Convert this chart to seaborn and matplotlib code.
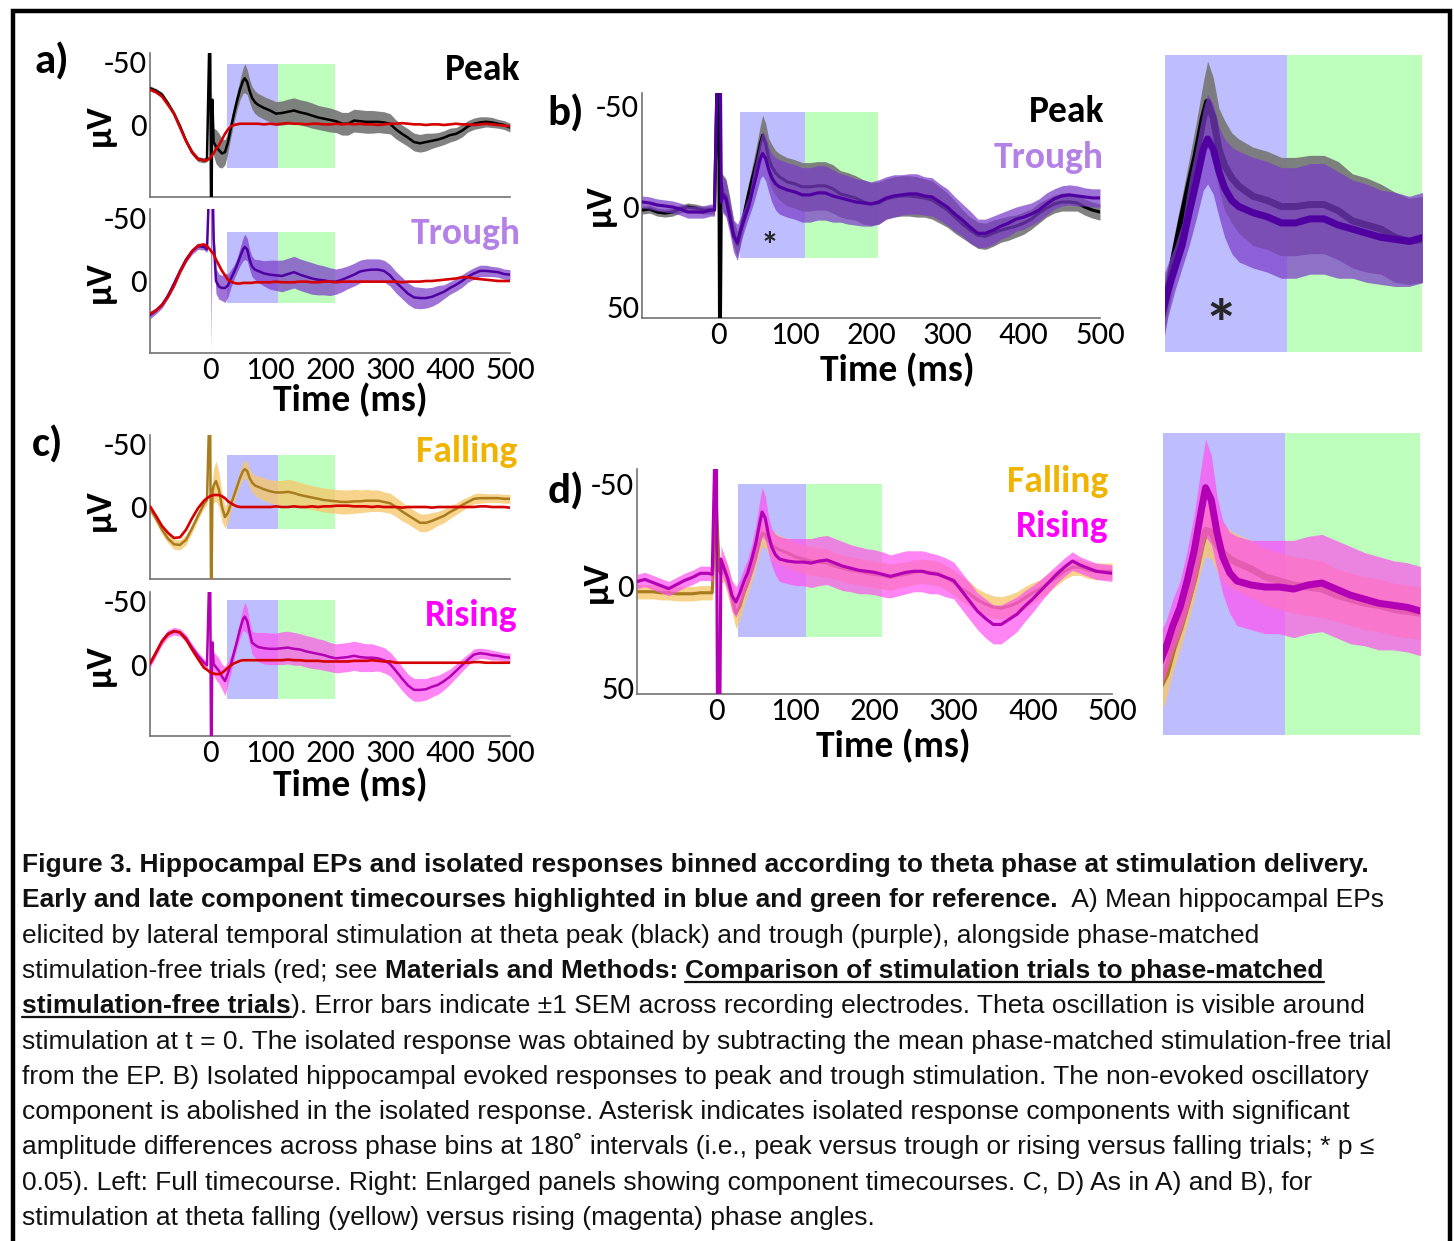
import numpy as np
import pandas as pd
import matplotlib
matplotlib.use("Agg")
import matplotlib.pyplot as plt
import matplotlib.transforms as mtransforms
import seaborn as sns
from matplotlib.patches import Rectangle
from matplotlib.lines import Line2D
from matplotlib import font_manager

# ------------------------------------------------------------------ data
TIME_MS = [-100, -90, -80, -70, -60, -50, -40, -30, -20, -10,
           -5, 0, 2, 4, 6,
           10, 15, 20, 25, 30, 35, 40, 45, 50, 55,
           58, 62, 66, 70, 75, 80,
           90, 100, 110, 120, 130, 140, 150, 160, 170, 180, 190, 200,
           210, 220, 230, 240, 250, 260, 270, 280, 290, 300,
           310, 320, 330, 340, 350, 360, 370, 380, 390, 400,
           410, 420, 430, 440, 450, 460, 470, 480, 490, 500]

# a) EP at theta peak + phase-matched stimulation-free trials (uV, negative up)
A_PEAK_FREE = [-28, -26, -22.5, -16, -9, 2, 12.5, 21.5, 27, 28,
               28, 26, 25, 23.5, 22.5,
               19, 16, 11.5, 7, 3.5, 1, 0, -0.5, -1, -1,
               -1, -1, -1, -1, -1, -1,
               -0.5, -1, -0.5, -1, -1.5, -1, -1, -0.5, -1, -1, -0.5, -0.5,
               -1, -0.5, -1, -0.5, -1, -0.5, -0.5, 0, -0.5, -1,
               -1, -1.5, -1, -0.5, -0.5, 0, -0.5, -0.5, 0, -0.5,
               -1, -0.5, -0.5, 0, -0.5, -1, -0.5, 0, 0.5, 1]
A_PEAK_EP = [-29, -27, -24, -17, -9, 1, 12.5, 21.5, 27, 28,
             27, -95, 95, -20, 13.5,
             17, 20, 22.5, 21.5, 13.5, 2, -9, -19, -28, -35,
             -37, -34, -27, -21.5, -18, -16,
             -13.5, -11.5, -9, -9.5, -10.5, -11.5, -10, -9, -7.5, -6, -5, -4,
             -3, -1, -1, -3.5, -3, -2.5, -2.5, -2.5, -2, -1,
             3.5, 7, 10, 13.5, 14.5, 13.5, 12.5, 11.5, 10, 8,
             7, 4.5, 1, -1, -2, -2.5, -2, -1, 0, 2]
A_PEAK_SEM = [2, 2, 2, 2, 2, 2, 2, 2, 2, 2,
              2, 2, 2, 7, 11,
              13.5, 13.5, 11.5, 10, 8, 7, 7, 7, 8, 10,
              11.5, 10, 9, 9, 9, 9,
              9, 9, 9.5, 9.5, 10, 10, 10, 10, 10, 9.5, 9.5, 9.5,
              9, 9, 9, 9, 9, 9, 9, 8.5, 8.5, 8,
              7.5, 7, 7, 7, 7, 7, 6, 5.5, 5.5, 5.5,
              5, 5, 4.5, 4.5, 4.5, 4, 4, 3.5, 3.5, 3.5]

A_TROUGH_FREE = [26, 23.5, 19, 12.5, 4, -7, -16, -23.5, -28, -29,
                 -27.5, -25, -23.5, -22.5, -21.5,
                 -17, -12.5, -8, -4.5, -1, 0.5, 1.5, 2, 2, 1.5,
                 1.5, 1.5, 1.5, 1.5, 1, 1,
                 1, 1, 0.5, 1, 1, 1, 0.5, 0.5, 1, 1, 0.5, 0.5,
                 1, 0.5, 0.5, 0.5, 0.5, 0.5, 0.5, 0.5, 0.5, 0.5,
                 0.5, 1, 0.5, 0.5, 0.5, 0, 0, -0.5, -1, -1.5,
                 -2, -3, -3, -2, -1.5, -1, -0.5, 0, 0, 0]
A_TROUGH_EP = [27, 23.5, 19, 11.5, 2, -8, -17, -23.5, -27.5, -27,
               -25, -95, -95, -95, -34,
               0, 4.5, 5.5, 5.5, 3.5, -2, -7, -12.5, -19, -25,
               -27, -25, -17, -11.5, -9, -8,
               -6, -5, -4.5, -4, -5.5, -7, -5, -3.5, -2, -1, -0.5, 0.5,
               0.5, -1, -3, -5, -7.5, -8.5, -9, -9, -8, -4.5,
               1, 5.5, 10, 13, 13.5, 13.5, 12.5, 10.5, 8.5, 5.5,
               3, 0, -3.5, -6, -8, -8, -7.5, -7, -5.5, -5]
A_TROUGH_SEM = [3, 2.5, 2.5, 2.5, 2.5, 2.5, 2.5, 2.5, 2.5, 2.5,
                2.5, 3.5, 150, 3.5, 9,
                10, 10, 10, 11.5, 9, 7, 5.5, 5.5, 7, 9,
                10, 9, 8, 8, 8, 9,
                10, 11.5, 12, 12.5, 12.5, 12.5, 12.5, 12.5, 12.5, 12, 11.5, 11,
                10, 9.5, 9, 9, 9, 9, 8.5, 8.5, 8.5, 8.5,
                8.5, 8.5, 8.5, 8.5, 8.5, 8, 7.5, 7, 5.5, 5,
                5, 5, 4.5, 4.5, 4.5, 4.5, 4, 4, 4, 4]

# b) isolated responses, peak vs trough
B_PEAK = [2, 1.5, 3, 3.5, 3, 1.5, 0.5, 1, 2, 2,
          2, -95, 95, -11, -6.5,
          -4.5, 3.5, 13.5, 19, 11, 2, -6.5, -14.5, -22, -31,
          -35, -31, -23.5, -19.5, -16.5, -14.5,
          -12, -11, -9.5, -9.5, -10, -10, -8.5, -6, -5, -4, -2, -1,
          -1.5, -3.5, -4.5, -5, -5, -4.5, -4, -3, -0.5, 2,
          5.5, 9, 12, 14.5, 15, 13.5, 12, 11, 10, 8.5,
          6.5, 3.5, 1, -1, -2, -2, -1.5, 0.5, 2, 3]
B_PEAK_SEM = [2, 2, 2, 2, 2, 2, 2, 2, 2, 2,
              2, 2, 2, 5.5, 9,
              9, 8, 6.5, 6.5, 5.5, 5.5, 5.5, 6.5, 8, 9,
              10, 10, 10, 11, 11, 11.5,
              12, 12, 12, 12, 12, 12, 12, 11.5, 11.5, 11, 11, 10.5,
              10.5, 10, 10, 10, 10, 10, 9.5, 9.5, 9, 8.5,
              8, 7, 6.5, 6.5, 6.5, 6.5, 6, 6, 5.5, 5.5,
              5, 5, 4.5, 4.5, 4.5, 4.5, 4, 4, 4, 4]
B_TROUGH = [-2, -1.5, -0.5, 0, 0.5, 1.5, 3, 3, 3, 2,
            2, -95, -95, -2, -5.5,
            -3.5, 5.5, 15, 18, 11, 5.5, 0, -8, -15.5, -23.5,
            -26, -23.5, -18, -14, -11, -9.5,
            -8, -7, -5.5, -5.5, -6.5, -6.5, -5, -4, -3, -2, -1.5, -1,
            -2, -4, -5, -5.5, -6, -6, -5, -4.5, -2, 0.5,
            4, 7, 10.5, 13.5, 13.5, 12, 10, 8.5, 6.5, 5.5,
            4, 2, -1, -3.5, -5, -5.5, -5, -4.5, -4, -4]
B_TROUGH_SEM = [3, 3, 3, 3, 3, 3, 3, 3, 3, 3,
                3, 2, 2, 5.5, 9,
                9, 8, 8, 9, 6.5, 5.5, 5.5, 8, 9, 10,
                11, 11, 11, 12, 13, 13.5,
                13.5, 13.5, 13.5, 13.5, 13.5, 13.5, 13, 12, 12, 11.5, 11.5, 11,
                11, 10.5, 10.5, 10, 10, 10, 9.5, 9.5, 9, 9,
                8.5, 8, 8, 7, 7, 7, 6.5, 6.5, 6, 6,
                5.5, 5.5, 5.5, 5, 5, 5, 5, 4.5, 4.5, 4.5]

# c) EP at theta falling / rising + phase-matched stimulation-free trials
C_FALL_FREE = [-0.5, 7, 15, 20.5, 24.5, 24, 18, 9, 1, -5,
               -7, -8.5, -9, -9, -9.5,
               -9.5, -9.5, -8.5, -7, -4.5, -3, -1.5, -0.5, 0, 0,
               0, 0, 0, 0, 0, 0,
               0, 0, -0.5, 0, 0, -0.5, 0, 0, -0.5, 0, -0.5, -0.5,
               -1, -1, -1, -0.5, -0.5, -0.5, 0, -0.5, 0, 0,
               0, 0.5, 0, 0, 0, 0, 0.5, 0, 0, 0,
               0, 0, 0, 0, -0.5, -0.5, 0, 0, 0, 0.5]
C_FALL_EP = [1, 9, 18, 25, 29.5, 30, 26, 17, 7, -2.5,
             -5.5, -95, 95, -11.5, -17,
             -20.5, -13.5, 0, 8, 4.5, -2.5, -9, -16, -23, -28.5,
             -30, -28.5, -23, -19.5, -17, -16,
             -14, -12.5, -11.5, -11.5, -12, -11, -9.5, -8.5, -7.5, -6.5, -5.5, -5,
             -4.5, -4, -4, -4.5, -4.5, -5, -5, -5, -4, -3,
             0, 3.5, 6.5, 9.5, 12.5, 12.5, 11, 9, 7, 4,
             1.5, -1.5, -4, -6.5, -7, -7, -7, -7, -6.5, -6.5]
C_FALL_SEM = [3.5, 3.5, 3.5, 3.5, 4, 4, 4, 3.5, 3.5, 3.5,
              3.5, 3.5, 3.5, 9, 13.5,
              16, 13.5, 11.5, 9, 7, 5.5, 5, 5, 5.5, 7,
              7, 7, 7, 7.5, 8, 8.5,
              9, 9, 9.5, 9.5, 10, 10, 10, 9.5, 9.5, 9.5, 9.5, 9.5,
              9.5, 9.5, 9.5, 9.5, 9, 9, 8.5, 8.5, 8, 8,
              7.5, 7.5, 7, 7, 7, 7, 6.5, 5.5, 5.5, 5,
              4.5, 4.5, 4, 4, 4, 3.5, 3.5, 3.5, 3.5, 3.5]

C_RISE_FREE = [-0.5, -9, -18, -23.5, -26, -25, -19.5, -11.5, -4, 3,
               4.5, 6.5, 7, 7.5, 7.5,
               8, 8, 7, 5, 3, 1, -0.5, -1.5, -2.5, -3,
               -3, -3, -3, -3, -3, -3,
               -3, -3, -3, -3, -3.5, -3, -3, -2.5, -2.5, -2.5, -2, -2,
               -2, -2, -2, -2.5, -2.5, -2.5, -3, -2.5, -2, -2,
               -1, -1, -1, -1, -1, -1, -1, -1, -1, -1,
               -1, -1, -1, -1.5, -1.5, -1, -1, -1, -1, -1]
C_RISE_EP = [0, -9, -18, -24, -26, -25, -20.5, -13, -6.5, -1,
             1, -95, 95, -17, 0,
             2.5, 5.5, 10, 13.5, 7, 0, -9, -18, -27.5, -35.5,
             -37.5, -34, -25, -17, -15, -13.5,
             -12.5, -12, -12, -12.5, -13, -12, -11.5, -10, -9, -8, -7, -5.5,
             -4.5, -5, -5.5, -6.5, -5.5, -5, -5, -4.5, -3, 0,
             5.5, 11.5, 17, 20.5, 20.5, 20, 18, 16.5, 13.5, 10,
             5.5, 1, -3.5, -7.5, -8.5, -8, -7, -6.5, -5.5, -5]
C_RISE_SEM = [3, 3, 3, 3, 3, 3, 3, 3, 3, 3,
              3.5, 3.5, 3.5, 7, 9,
              10, 10, 10, 11.5, 9, 7, 5.5, 5.5, 7, 9,
              11.5, 10, 9, 9, 10, 11.5,
              12.5, 12.5, 12.5, 13, 13, 13, 12.5, 12.5, 12.5, 12, 12, 11.5,
              11.5, 11.5, 11.5, 11.5, 11.5, 11, 11, 10, 10, 9.5,
              9.5, 9.5, 9, 9, 9, 8.5, 8, 7.5, 7, 6,
              5.5, 5, 4.5, 4.5, 4, 4, 4, 3.5, 3.5, 3.5]

# d) isolated responses, falling vs rising
D_FALL = [3, 3, 3, 3.5, 3.5, 4, 4, 4, 3.5, 3.5,
          3.5, -40.5, -24, -7.5, -5.5,
          -8.5, -2, 5.5, 13.5, 10, 3.5, -1.5, -7.5, -14, -22,
          -25.5, -25, -22, -20, -18.5, -17.5,
          -16, -14, -13, -12, -11.5, -11, -9.5, -8.5, -7.5, -7, -6, -5.5,
          -5, -4, -5, -5.5, -6.5, -7, -6.5, -6, -4, -1.5,
          1.5, 4, 7, 9, 10.5, 11, 10, 8.5, 6, 3.5,
          1.5, -1.5, -4, -7, -9, -9, -7.5, -7, -7, -7]
D_FALL_SEM = [3.5, 3.5, 3.5, 3.5, 3.5, 3.5, 3.5, 3.5, 3.5, 3.5,
              3.5, 3.5, 3.5, 3.5, 4.5,
              6.5, 7.5, 7.5, 7.5, 6.5, 6, 5.5, 5.5, 5.5, 6,
              6.5, 6.5, 6.5, 7, 7, 7,
              7, 7, 7, 7, 7, 7, 6.5, 6.5, 6.5, 6.5, 6.5, 6.5,
              6.5, 6.5, 6, 6, 6, 6, 6, 6, 6, 6,
              6, 6, 5.5, 5.5, 5.5, 5.5, 5.5, 5.5, 5.5, 5,
              4.5, 4.5, 4, 4, 4, 4, 4, 4, 4, 4]
D_RISE = [-2, -3, -1.5, 0, 1.5, -0.5, -2.5, -4, -6, -6,
          -5.5, -95, 95, 95, -13,
          -8.5, -3, 5, 8, 3.5, -2, -6.5, -13, -20.5, -30.5,
          -36, -33, -25, -19, -15, -13,
          -12, -11.5, -11.5, -11, -12, -12.5, -11, -9.5, -8.5, -7.5, -7, -6.5,
          -5.5, -4.5, -5.5, -6.5, -7, -7, -6, -5.5, -4, -2.5,
          2.5, 7.5, 12.5, 16, 19, 19, 16.5, 14, 10, 6.5,
          2.5, -1.5, -5.5, -9, -12, -10, -8.5, -7, -6.5, -6]
D_RISE_SEM = [3.5, 3.5, 3.5, 3.5, 3.5, 3.5, 3.5, 3.5, 3.5, 3.5,
              3.5, 3.5, 3.5, 3.5, 6.5,
              6.5, 6.5, 7.5, 7.5, 6.5, 6.5, 6.5, 7.5, 9, 11,
              12, 11, 9, 9, 10, 11,
              11, 11.5, 11.5, 12, 12, 12, 12, 12, 11.5, 11.5, 11, 11,
              11, 10.5, 10.5, 10.5, 10, 10, 10, 9.5, 9.5, 9,
              9, 9, 9, 9.5, 9.5, 9.5, 9, 8.5, 7.5, 6.5,
              5.5, 5, 4.5, 4.5, 4.5, 4, 4, 4, 4, 4]

# component windows (ms): early [28,114], late [114,209]
COMPONENT_MS = [28, 114, 209]
# vertical extent (uV) of the highlighted component boxes per panel
BOX_A_PEAK = (-48.5, 34)
BOX_A_TROUGH = (-39, 17.5)
BOX_C_FALL = (-41, 17.5)
BOX_C_RISE = (-51, 27.5)
BOX_B = (-46.5, 26)
BOX_D = (-49.5, 25)
SIG_MARK = (67, 15)          # asterisk: early component, peak vs trough

X_TICKS = [0, 100, 200, 300, 400, 500]
Y_TICKS = [-50, 0, 50]

# ------------------------------------------------------------------ style
W, H = 1454, 1241
sns.set_theme(style="white")
avail = {f.name for f in font_manager.fontManager.ttflist}


def pick(*names):
    for n in names:
        if n in avail:
            return n
    return 'DejaVu Sans'


LABEL_FONT = pick('Carlito', 'Lato', 'Open Sans')
CAPTION_FONT = pick('Liberation Sans Narrow', 'Arimo', 'Liberation Sans')
plt.rcParams['font.family'] = [LABEL_FONT, 'DejaVu Sans']

BLUE_BOX = '#BEBEFF'
GREEN_BOX = '#BEFFBE'
RED = '#D40000'
SPINE = '#737373'
TICK_SIZE = 23.5

fig = plt.figure(figsize=(W / 100, H / 100), dpi=100)
T = np.asarray(TIME_MS, float)


def box(l, t, r, b):
    return [l / W, 1 - b / H, (r - l) / W, (b - t) / H]


def add_component_boxes(ax, ext):
    lo, hi = ext
    ax.add_patch(Rectangle((COMPONENT_MS[0], lo), COMPONENT_MS[1] - COMPONENT_MS[0], hi - lo,
                           facecolor=BLUE_BOX, edgecolor='none', zorder=0.5))
    ax.add_patch(Rectangle((COMPONENT_MS[1], lo), COMPONENT_MS[2] - COMPONENT_MS[1], hi - lo,
                           facecolor=GREEN_BOX, edgecolor='none', zorder=0.5))


def draw(ax, series, lw_scale=1.0):
    z = 2
    for s in series:
        m = np.asarray(s['mean'], float)
        if s.get('sem') is not None:
            e = np.asarray(s['sem'], float)
            ax.fill_between(T, m - e, m + e, color=s['fill'], alpha=s['alpha'], lw=0, zorder=z)
        df = pd.DataFrame({'t': T, 'v': m})
        sns.lineplot(data=df, x='t', y='v', ax=ax, color=s['color'], lw=s['lw'] * lw_scale,
                     estimator=None, sort=False, legend=False, zorder=z + 1)
        z += 2
    ax.set_xlabel('')
    ax.set_ylabel('')


def style_main(ax, ylim, xlabels, ylabels):
    ax.set_xlim(-100, 500)
    ax.set_ylim(*ylim)
    ax.set_xticks(X_TICKS)
    ax.set_xticklabels([str(v) for v in X_TICKS] if xlabels else [])
    ax.set_yticks(Y_TICKS[:len(ylabels)])
    ax.set_yticklabels(ylabels)
    for s in ['top', 'right']:
        ax.spines[s].set_visible(False)
    for s in ['left', 'bottom']:
        ax.spines[s].set_color(SPINE)
        ax.spines[s].set_linewidth(1.2)
    ax.tick_params(direction='in', length=5, width=1, color=SPINE, labelcolor='black',
                   labelsize=TICK_SIZE, pad=2)
    ax.set_facecolor('none')
    ax.grid(False)


def ftext(x, y, s, **kw):
    return fig.text(x / W, 1 - y / H, s, **kw)


PEAK = dict(color='black', fill='#7a7a7a', alpha=0.95, lw=1.8)
TROUGH = dict(color='#5000A0', fill='#7A3CC8', alpha=0.72, lw=1.8)
FALL = dict(color='#A87C1E', fill='#F5C86E', alpha=0.8, lw=1.8)
RISE = dict(color='#B400B4', fill='#FF50F0', alpha=0.7, lw=1.8)
FREE = dict(color=RED, lw=1.9)

A_YLIM = (57, -57)

# ---------------- panel a
ax = fig.add_axes(box(150, 53, 510, 197))
add_component_boxes(ax, BOX_A_PEAK)
draw(ax, [dict(PEAK, mean=A_PEAK_EP, sem=A_PEAK_SEM), dict(FREE, mean=A_PEAK_FREE)])
style_main(ax, A_YLIM, False, ['-50', '0'])

ax = fig.add_axes(box(150, 209, 510, 353))
add_component_boxes(ax, BOX_A_TROUGH)
draw(ax, [dict(TROUGH, mean=A_TROUGH_EP, sem=A_TROUGH_SEM), dict(FREE, mean=A_TROUGH_FREE)])
style_main(ax, A_YLIM, True, ['-50', '0'])

# ---------------- panel c
ax = fig.add_axes(box(150, 435, 510, 579))
add_component_boxes(ax, BOX_C_FALL)
draw(ax, [dict(FALL, mean=C_FALL_EP, sem=C_FALL_SEM), dict(FREE, mean=C_FALL_FREE)])
style_main(ax, A_YLIM, False, ['-50', '0'])

ax = fig.add_axes(box(150, 592, 510, 736))
add_component_boxes(ax, BOX_C_RISE)
draw(ax, [dict(RISE, mean=C_RISE_EP, sem=C_RISE_SEM), dict(FREE, mean=C_RISE_FREE)])
style_main(ax, A_YLIM, True, ['-50', '0'])

# ---------------- panel b
B_SERIES = [dict(PEAK, mean=B_PEAK, sem=B_PEAK_SEM), dict(TROUGH, mean=B_TROUGH, sem=B_TROUGH_SEM)]
ax = fig.add_axes(box(642, 93, 1100, 318))
add_component_boxes(ax, BOX_B)
draw(ax, B_SERIES, lw_scale=1.25)
style_main(ax, (55.5, -56), True, ['-50', '0', '50'])
ax.text(SIG_MARK[0], SIG_MARK[1], '*', fontsize=26, fontweight='bold', ha='center', va='baseline',
        transform=mtransforms.offset_copy(ax.transData, fig, y=-0.58 * 26, units='points'), zorder=20)

axz = fig.add_axes(box(1165, 55, 1422, 352))
add_component_boxes(axz, BOX_B)
draw(axz, B_SERIES, lw_scale=2.8)
axz.set_xlim(COMPONENT_MS[0], COMPONENT_MS[2])
axz.set_ylim(BOX_B[1], BOX_B[0])
axz.set_axis_off()
axz.text(SIG_MARK[0], SIG_MARK[1], '*', fontsize=50, fontweight='bold', ha='center', va='baseline',
         transform=mtransforms.offset_copy(axz.transData, fig, y=-0.58 * 50, units='points'), zorder=20)

# ---------------- panel d
D_SERIES = [dict(FALL, mean=D_FALL, sem=D_FALL_SEM), dict(RISE, mean=D_RISE, sem=D_RISE_SEM)]
ax = fig.add_axes(box(637, 469, 1112, 694))
add_component_boxes(ax, BOX_D)
draw(ax, D_SERIES, lw_scale=1.25)
style_main(ax, (53, -57), True, ['-50', '0', '50'])

axz = fig.add_axes(box(1163, 433, 1420, 735))
add_component_boxes(axz, BOX_D)
draw(axz, D_SERIES, lw_scale=2.8)
axz.set_xlim(COMPONENT_MS[0], COMPONENT_MS[2])
axz.set_ylim(BOX_D[1], BOX_D[0])
axz.set_axis_off()

# ---------------- panel texts
BIG = dict(fontsize=27, fontweight='bold', va='center')
ftext(483, 70, 'Peak', ha='center', color='black', **BIG)
ftext(466, 233, 'Trough', ha='center', color='#B482E6', **BIG)
ftext(467, 452, 'Falling', ha='center', color='#F0B400', **BIG)
ftext(471, 616, 'Rising', ha='center', color='#FF00FF', **BIG)
ftext(1104, 112, 'Peak', ha='right', color='black', **BIG)
ftext(1104, 157, 'Trough', ha='right', color='#B482E6', **BIG)
ftext(1108, 482, 'Falling', ha='right', color='#F0B400', **BIG)
ftext(1108, 527, 'Rising', ha='right', color='#FF00FF', **BIG)

LET = dict(fontsize=31, fontweight='bold', ha='center', va='center', color='black')
ftext(52, 62, 'a)', **LET)
ftext(566, 114, 'b)', **LET)
ftext(48, 445, 'c)', **LET)
ftext(566, 492, 'd)', **LET)

UV = dict(fontsize=26, fontweight='bold', rotation=90, ha='center', va='center', color='black')
for (x, y) in [(100, 125), (100, 282), (100, 510), (100, 665), (600, 205), (597, 582)]:
    ftext(x, y, 'μV', **UV)

TL = dict(fontsize=27, fontweight='bold', ha='center', va='center', color='black')
for (x, y) in [(350, 400), (350, 785), (897, 370), (893, 746)]:
    ftext(x, y, 'Time (ms)', **TL)

# ---------------- caption
CAPTION = [
    [("Figure 3. Hippocampal EPs and isolated responses binned according to theta phase at stimulation delivery.", 'B')],
    [("Early and late component timecourses highlighted in blue and green for reference.", 'B'),
     ("  A) Mean hippocampal EPs", 'R')],
    [("elicited by lateral temporal stimulation at theta peak (black) and trough (purple), alongside phase-matched", 'R')],
    [("stimulation-free trials (red; see ", 'R'), ("Materials and Methods: ", 'B'),
     ("Comparison of stimulation trials to phase-matched", 'BU')],
    [("stimulation-free trials", 'BU'),
     ("). Error bars indicate ±1 SEM across recording electrodes. Theta oscillation is visible around", 'R')],
    [("stimulation at t = 0. The isolated response was obtained by subtracting the mean phase-matched stimulation-free trial", 'R')],
    [("from the EP. B) Isolated hippocampal evoked responses to peak and trough stimulation. The non-evoked oscillatory", 'R')],
    [("component is abolished in the isolated response. Asterisk indicates isolated response components with significant", 'R')],
    [("amplitude differences across phase bins at 180˚ intervals (i.e., peak versus trough or rising versus falling trials; * p ≤", 'R')],
    [("0.05). Left: Full timecourse. Right: Enlarged panels showing component timecourses. C, D) As in A) and B), for", 'R')],
    [("stimulation at theta falling (yellow) versus rising (magenta) phase angles.", 'R')],
]
CAP_FAM = [CAPTION_FONT, 'DejaVu Sans']
renderer = fig.canvas.get_renderer()


def measure(s, size, bold):
    t = fig.text(0, 0, s, fontsize=size, fontweight='bold' if bold else 'normal', family=CAP_FAM)
    w = t.get_window_extent(renderer=renderer).width
    t.remove()
    return w


cap_size = 14 * 1380 / measure(CAPTION[5][0][0], 14, False)
y0, dy = 872, 35.3
for i, line in enumerate(CAPTION):
    yb = y0 + i * dy
    x = 22
    for s, kind in line:
        bold = kind in ('B', 'BU')
        t = ftext(x, yb, s, fontsize=cap_size, fontweight='bold' if bold else 'normal',
                  family=CAP_FAM, ha='left', va='baseline', color='#111111')
        w = t.get_window_extent(renderer=renderer).width
        if kind == 'BU':
            wu = measure(s.rstrip(), cap_size, True)
            fig.add_artist(Line2D([x / W, (x + wu) / W], [1 - (yb + 4) / H] * 2,
                                  transform=fig.transFigure, color='#111111', lw=1.6))
        x += w

# ---------------- outer frame
fig.add_artist(Rectangle((12.5 / W, -0.02), (1449.5 - 12.5) / W, 1.02 - 10.5 / H,
                         transform=fig.transFigure, fill=False, ec='black', lw=3.2))

fig.savefig('out.png', dpi=100)
